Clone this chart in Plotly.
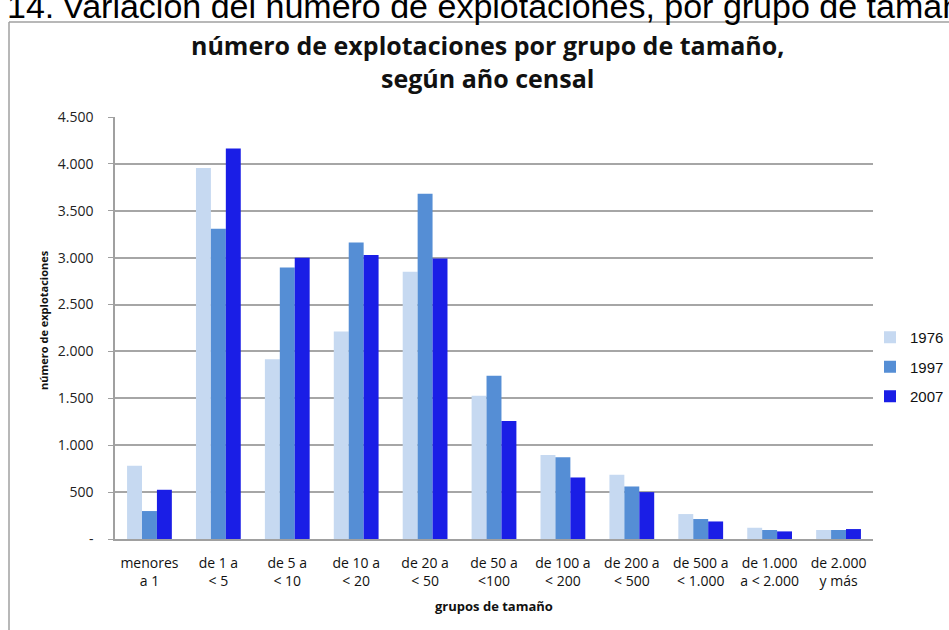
import plotly.graph_objects as go

# --- data ---
grupos = ["menores<br>a 1", "de 1 a<br>< 5", "de 5 a<br>< 10", "de 10 a<br>< 20", "de 20 a<br>< 50",
          "de 50 a<br><100", "de 100 a<br>< 200", "de 200 a<br>< 500", "de 500 a<br>< 1.000",
          "de 1.000<br>a < 2.000", "de 2.000<br>y más"]
v1976 = [780, 3955, 1918, 2213, 2851, 1528, 897, 684, 266, 120, 96]
v1997 = [298, 3309, 2894, 3163, 3681, 1741, 872, 560, 213, 96, 96]
v2007 = [525, 4165, 3000, 3028, 2990, 1259, 656, 500, 187, 81, 106]
y_ticks = [0, 500, 1000, 1500, 2000, 2500, 3000, 3500, 4000, 4500]
y_labels = ["-", "500", "1.000", "1.500", "2.000", "2.500", "3.000", "3.500", "4.000", "4.500"]

series = [("1976", v1976, "#c6d9f1"), ("1997", v1997, "#558ed5"), ("2007", v2007, "#1a1ee6")]

# plot area in pixels (used to convert page positions to paper coords)
W, H = 949, 630
L, R, T, B = 115, 76, 117, 91
pw, ph = W - L - R, H - T - B


def px(x):
    return (x - L) / pw


def py(y):
    return (H - B - y) / ph


fig = go.Figure()
for name, vals, col in series:
    fig.add_trace(go.Bar(x=grupos, y=vals, name=name, legendgroup=name,
                         marker=dict(color=col, line=dict(width=0))))

txt = "Open Sans, Lato, sans-serif"

fig.update_layout(
    width=W, height=H,
    margin=dict(l=L, r=R, t=T, b=B, autoexpand=False),
    paper_bgcolor="white", plot_bgcolor="white",
    barmode="group", bargap=0.35, bargroupgap=0,
    showlegend=True,
    legend=dict(x=px(870), y=py(321), xanchor="left", yanchor="top",
                font=dict(family="Liberation Sans, Arial", size=15, color="#111"),
                tracegroupgap=7, bgcolor="rgba(0,0,0,0)", borderwidth=0),
    xaxis=dict(tickfont=dict(family=txt, size=14, color="#111"),
               showline=True, linecolor="#a0a0a0", linewidth=2,
               ticks="", showgrid=False, ticklabelstandoff=10),
    yaxis=dict(range=[0, 4500], tickvals=y_ticks, ticktext=y_labels,
               tickfont=dict(family=txt, size=14, color="#222"),
               showgrid=True, gridcolor="#a6a6a6", gridwidth=1.5,
               showline=True, linecolor="#a0a0a0", linewidth=1.5,
               ticks="outside", ticklen=5, tickcolor="#a0a0a0",
               ticklabelstandoff=12, zeroline=False),
    font=dict(family=txt),
)

# title
fig.add_annotation(text="número de explotaciones por grupo de tamaño,", x=px(487), y=py(45),
                   xref="paper", yref="paper", showarrow=False, xanchor="center", yanchor="middle",
                   font=dict(family=txt, size=25, color="#111", weight="bold"))
fig.add_annotation(text="según año censal", x=px(487), y=py(78),
                   xref="paper", yref="paper", showarrow=False, xanchor="center", yanchor="middle",
                   font=dict(family=txt, size=25, color="#111", weight="bold"))

# axis titles
fig.add_annotation(text="número de explotaciones", x=px(43), y=py(320), textangle=-90,
                   xref="paper", yref="paper", showarrow=False, xanchor="center", yanchor="middle",
                   font=dict(family=txt, size=11, color="#111", weight="bold"))
fig.add_annotation(text="grupos de tamaño", x=px(494), y=py(606),
                   xref="paper", yref="paper", showarrow=False, xanchor="center", yanchor="middle",
                   font=dict(family=txt, size=13, color="#111", weight="bold"))

# caption cut off at the top of the page
fig.add_annotation(text="Gráfico 14.", x=px(56), y=py(6),
                   xref="paper", yref="paper", showarrow=False, xanchor="right", yanchor="middle",
                   font=dict(family="Liberation Sans, Arial", size=34, color="#000"))
fig.add_annotation(text="Variación del número de explotaciones, por grupo de tamaño", x=px(60), y=py(6),
                   xref="paper", yref="paper", showarrow=False, xanchor="left", yanchor="middle",
                   font=dict(family="Liberation Sans, Arial", size=34, color="#000"))

# frame around the chart
fig.add_shape(type="line", xref="paper", yref="paper", x0=px(9), x1=px(9), y0=py(22), y1=py(H + 5),
              line=dict(color="#a0a0a0", width=1.5))
fig.add_shape(type="line", xref="paper", yref="paper", x0=px(9), x1=px(W + 5), y0=py(22), y1=py(22),
              line=dict(color="#a0a0a0", width=1.5))

fig.write_html("out.html", config={"displayModeBar": False},
               post_script="document.body.style.margin = '0';")
